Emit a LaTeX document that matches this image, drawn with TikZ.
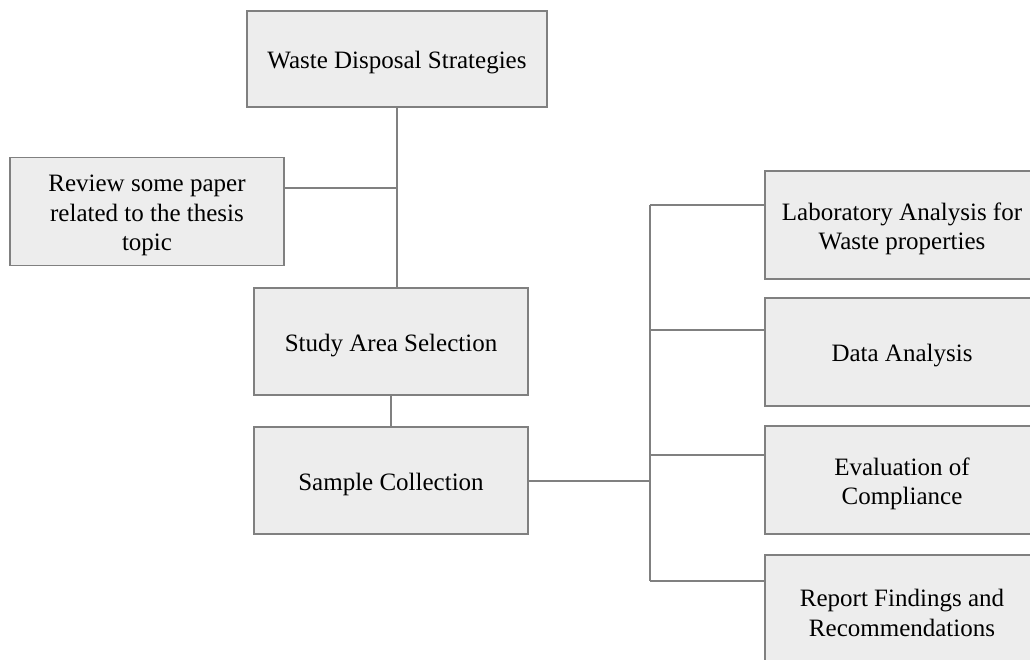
\documentclass[tikz,border=0pt]{standalone}
\usepackage{fontspec}
\setmainfont{Liberation Serif}
\usepackage{tikz}

\definecolor{boxfill}{HTML}{EDEDED}
\definecolor{boxline}{HTML}{808080}
\newcommand{\topgap}{\rule{0pt}{25pt}}

\begin{document}
\begin{tikzpicture}[x=1pt, y=-1pt,
  stage/.style={draw=boxline, fill=boxfill, line width=1.3pt, minimum width=274pt, minimum height=108pt, inner sep=0pt, align=center, font=\fontsize{25}{29.5}\selectfont},
  link/.style={draw=boxline, line width=1.3pt}]
\useasboundingbox (0,0) rectangle (1030,659);
\clip (0,0) rectangle (1030,659);

\node[stage, minimum width=300pt, minimum height=96pt] (waste) at (397,59) {\topgap Waste Disposal Strategies};
\node[stage] (review) at (147,211.5) {\topgap Review some paper\\related to the thesis\\topic};
\node[stage, minimum height=107pt] (study) at (391,341.5) {\topgap Study Area Selection};
\node[stage, minimum height=107pt] (sample) at (391,480.5) {\topgap Sample Collection};

\node[stage] (lab) at (902,225) {\topgap Laboratory Analysis for\\Waste properties};
\node[stage] (data) at (902,352) {\topgap Data Analysis};
\node[stage] (eval) at (902,480) {\topgap Evaluation of\\Compliance};
\node[stage] (report) at (902,609) {\topgap Report Findings and\\Recommendations};

% left branch
\coordinate (jr) at (397,188);
\draw[link] (waste.south -| jr) -- (jr |- study.north);
\draw[link] (review.east |- jr) -- (jr);
\draw[link] (study) -- (sample);

% right branch
\coordinate (bus) at (650,481);
\draw[link] (sample.east |- bus) -- (bus);
\draw[link] (650,205) -- (650,581);
\foreach \n/\y in {lab/205, data/330, eval/455, report/581}
\draw[link] (650,\y) -- (\n.west |- 0,\y);

\end{tikzpicture}
\end{document}
